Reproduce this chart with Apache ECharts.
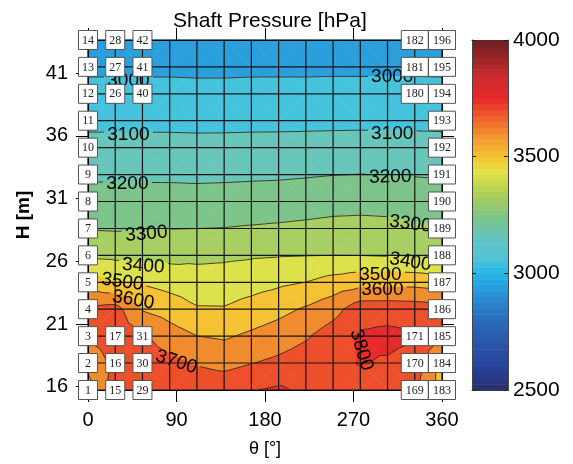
<!DOCTYPE html>
<html><head><meta charset="utf-8">
<script src="https://cdn.jsdelivr.net/npm/echarts@6/dist/echarts.min.js"></script>
<style>html,body{margin:0;padding:0;background:#fff}#c{width:573px;height:464px}</style>
</head><body><div id="c"></div><script>
// ---------- data ----------
const thetaNodes = [0, 27.69, 55.38, 83.08, 110.77, 138.46, 166.15, 193.85, 221.54, 249.23, 276.92, 304.62, 332.31, 360];
const heightNodes = [15.74, 17.89, 20.03, 22.18, 24.32, 26.47, 28.61, 30.76, 32.91, 35.05, 37.20, 39.34, 41.49, 43.63];
// pressure[row of height][column of theta]  (hPa)
const pressure = [
  [3560, 3745, 3760, 3770, 3775, 3770, 3795, 3815, 3780, 3775, 3770, 3760, 3720, 3555],
  [3625, 3730, 3755, 3730, 3690, 3668, 3697, 3722, 3750, 3770, 3805, 3790, 3760, 3560],
  [3712, 3745, 3715, 3646, 3601, 3588, 3618, 3649, 3689, 3750, 3812, 3825, 3810, 3705],
  [3720, 3740, 3593, 3557, 3508, 3507, 3537, 3571, 3612, 3663, 3760, 3760, 3755, 3740],
  [3543, 3505, 3491, 3463, 3444, 3446, 3462, 3482, 3501, 3538, 3564, 3569, 3566, 3548],
  [3384, 3377, 3372, 3371, 3378, 3383, 3390, 3395, 3398, 3400, 3399, 3394, 3384, 3373],
  [3295, 3291, 3295, 3298, 3300, 3302, 3308, 3314, 3321, 3330, 3333, 3328, 3316, 3306],
  [3240, 3238, 3239, 3240, 3240, 3242, 3245, 3248, 3255, 3263, 3266, 3264, 3255, 3248],
  [3185, 3185, 3184, 3183, 3180, 3182, 3185, 3187, 3192, 3198, 3201, 3200, 3195, 3191],
  [3130, 3130, 3130, 3129, 3127, 3128, 3130, 3131, 3134, 3136, 3137, 3137, 3135, 3132],
  [3078, 3078, 3078, 3078, 3077, 3077, 3078, 3078, 3078, 3079, 3080, 3080, 3079, 3078],
  [3030, 3030, 3030, 3030, 3028, 3028, 3030, 3030, 3030, 3031, 3031, 3031, 3030, 3030],
  [2982, 2982, 2982, 2982, 2980, 2980, 2982, 2982, 2982, 2983, 2983, 2983, 2983, 2982],
  [2935, 2935, 2935, 2935, 2935, 2935, 2935, 2935, 2935, 2935, 2935, 2935, 2935, 2935]
];
const contourLevels = [3000, 3100, 3200, 3300, 3400, 3500, 3600, 3700, 3800];
const thetaTicks = [0, 90, 180, 270, 360];
const heightTicks = [16, 21, 26, 31, 36, 41];
const colorbarTicks = [2500, 3000, 3500, 4000];
// node columns that carry numbered boxes, and the rows boxed in each
const boxedColumns = [0, 1, 2, 12, 13];
const boxedRows = {
  0: [0,1,2,3,4,5,6,7,8,9,10,11,12,13],
  1: [0,1,2,11,12,13],
  2: [0,1,2,11,12,13],
  12: [0,1,2,11,12,13],
  13: [0,1,2,3,4,5,6,7,8,9,10,11,12,13]
};
// contour label annotations: text, theta, height, rotation (deg)
const contourLabelText = ['3000','3000','3100','3100','3200','3200','3300','3300','3400','3400','3500','3500','3600','3600','3700','3800'];
const contourLabelTheta = [41.1, 309.4, 41.1, 309.4, 40.0, 307.4, 59.4, 327.9, 56.2, 327.9, 34.9, 297.3, 46.1, 299.3, 89.8, 278.0];
const contourLabelH = [40.37, 40.68, 36.06, 36.14, 32.15, 32.71, 28.17, 28.97, 25.62, 25.94, 24.35, 24.90, 22.91, 23.71, 17.97, 18.93];
const contourLabelRot = [0, 0, 0, 0, 0, 1, 5, -7, -4, -9, -8, 0, -10, 0, -18, -73];

// ---------- styles ----------
const FF = 'Liberation Sans, Arial, sans-serif';
const bandColors = ['#2a9fdb','#46c3dc','#67c6b9','#7dc48b','#a7cf61','#dde24b','#f4c233','#f08b2e','#ee4f2b','#e8282a'];
const cmapStops = [
  [2500,'#2b2d6b'],[2600,'#26439a'],[2700,'#2a55a8'],[2800,'#2a6bb8'],[2900,'#2b8ed3'],[2980,'#22aee6'],
  [3010,'#2bb8e6'],[3060,'#50c3da'],[3150,'#62c5c0'],[3230,'#78c48f'],[3320,'#a2cc5e'],[3440,'#e3e244'],
  [3500,'#f5c431'],[3580,'#f39a2e'],[3660,'#f0652c'],[3750,'#e8292a'],[3850,'#c92a2d'],[3930,'#952428'],[4000,'#6c1f23']
];
function hexToRgb(h){return [parseInt(h.slice(1,3),16),parseInt(h.slice(3,5),16),parseInt(h.slice(5,7),16)];}
function cmap(v){
  for(let k=0;k<cmapStops.length-1;k++){
    const a=cmapStops[k],b=cmapStops[k+1];
    if(v>=a[0]&&v<=b[0]){
      const t=(v-a[0])/(b[0]-a[0]);const ca=hexToRgb(a[1]),cb=hexToRgb(b[1]);
      return 'rgb('+ca.map((c,i)=>Math.round(c+t*(cb[i]-c))).join(',')+')';
    }
  }
  return v<cmapStops[0][0]?cmapStops[0][1]:cmapStops[cmapStops.length-1][1];
}

// ---------- geometry helpers ----------
function cellTriangles(api,i,j){
  const cs=[[i,j],[i+1,j],[i+1,j+1],[i,j+1]].map(([a,b])=>{
    const p=api.coord([thetaNodes[a],heightNodes[b]]);
    return [p[0],p[1],pressure[b][a]];
  });
  const c=[0,1,2].map(k=>(cs[0][k]+cs[1][k]+cs[2][k]+cs[3][k])/4);
  return [[cs[0],cs[1],c],[cs[1],cs[2],c],[cs[2],cs[3],c],[cs[3],cs[0],c]];
}
function clipPoly(poly,lev,above){
  const out=[];
  for(let k=0;k<poly.length;k++){
    const a=poly[k],b=poly[(k+1)%poly.length];
    const ain=above?a[2]>=lev:a[2]<=lev;
    const bin=above?b[2]>=lev:b[2]<=lev;
    if(ain)out.push(a);
    if(ain!==bin){
      const t=(lev-a[2])/(b[2]-a[2]);
      out.push([a[0]+t*(b[0]-a[0]),a[1]+t*(b[1]-a[1]),lev]);
    }
  }
  return out;
}
function labelRects(api){
  return contourLabelText.map((txt,k)=>{
    const p=api.coord([contourLabelTheta[k],contourLabelH[k]]);
    const r=contourLabelRot[k]*Math.PI/180;
    return {level:+txt,c:p,u:[Math.cos(r),-Math.sin(r)],n:[Math.sin(r),Math.cos(r)],hw:txt.length*5.6+2,hh:8};
  });
}
function subtractRect(seg,R){
  const P=seg[0],Q=seg[1];
  const d=[Q[0]-P[0],Q[1]-P[1]];
  const rel=[P[0]-R.c[0],P[1]-R.c[1]];
  const pa=rel[0]*R.u[0]+rel[1]*R.u[1], pb=rel[0]*R.n[0]+rel[1]*R.n[1];
  const da=d[0]*R.u[0]+d[1]*R.u[1], db=d[0]*R.n[0]+d[1]*R.n[1];
  let t0=0,t1=1;
  const tests=[[-da,pa+R.hw],[da,R.hw-pa],[-db,pb+R.hh],[db,R.hh-pb]];
  for(const [p,q] of tests){
    if(p===0){ if(q<0) return [seg]; }
    else{
      const r=q/p;
      if(p<0){ if(r>t1) return [seg]; if(r>t0) t0=r; }
      else { if(r<t0) return [seg]; if(r<t1) t1=r; }
    }
  }
  if(t0>t1) return [seg];
  const out=[];
  if(t0>0.001) out.push([P,[P[0]+t0*d[0],P[1]+t0*d[1]]]);
  if(t1<0.999) out.push([[P[0]+t1*d[0],P[1]+t1*d[1]],Q]);
  return out;
}

// ---------- series data ----------
const cells=[];
for(let j=0;j<heightNodes.length-1;j++)for(let i=0;i<thetaNodes.length-1;i++)cells.push([thetaNodes[i],heightNodes[j],i,j]);
const boxes=[];
boxedColumns.forEach(ci=>boxedRows[ci].forEach(rj=>boxes.push([thetaNodes[ci],heightNodes[rj],ci*heightNodes.length+rj+1])));
const labelsData=contourLabelText.map((t,k)=>[contourLabelTheta[k],contourLabelH[k],k]);
const colorbarSteps=[];
for(let v=colorbarTicks[0];v<colorbarTicks[colorbarTicks.length-1];v+=25)colorbarSteps.push([0.5,v]);

const chart=echarts.init(document.getElementById('c'),null,{renderer:'canvas'});
const axisLineStyle={color:'#000',width:1};
const option={
  animation:false,
  backgroundColor:'#fff',
  title:{text:'Shaft Pressure [hPa]',left:265,top:6,textAlign:'center',
    textStyle:{fontSize:21,fontWeight:'normal',color:'#000',fontFamily:FF}},
  grid:[{left:88,top:40,width:354,height:350},{left:472,top:40,width:36,height:350}],
  xAxis:[
    {gridIndex:0,type:'value',min:0,max:360,interval:90,position:'bottom',z:6,
      axisLine:{onZero:false,lineStyle:axisLineStyle},axisTick:{length:12,lineStyle:{color:'#000'}},
      axisLabel:{fontSize:20,color:'#000',margin:20,fontFamily:FF},splitLine:{show:false},
      name:'θ [°]',nameLocation:'middle',nameGap:50,nameTextStyle:{fontSize:18,color:'#000',fontFamily:FF}},
    {gridIndex:0,type:'value',min:0,max:360,interval:90,position:'top',z:6,
      axisLine:{onZero:false,lineStyle:axisLineStyle},axisTick:{length:12,lineStyle:{color:'#000'}},
      axisLabel:{show:false},splitLine:{show:false}},
    {gridIndex:1,type:'value',min:0,max:1,position:'bottom',axisLine:{onZero:false,lineStyle:{color:'#444',width:1}},
      axisTick:{show:false},axisLabel:{show:false},splitLine:{show:false}},
    {gridIndex:1,type:'value',min:0,max:1,position:'top',axisLine:{onZero:false,lineStyle:{color:'#444',width:1}},
      axisTick:{show:false},axisLabel:{show:false},splitLine:{show:false}}
  ],
  yAxis:[
    {gridIndex:0,type:'value',min:heightNodes[0],max:heightNodes[heightNodes.length-1],position:'left',z:6,
      axisLine:{onZero:false,lineStyle:axisLineStyle},
      axisTick:{length:12,customValues:heightTicks,lineStyle:{color:'#000'}},
      axisLabel:{customValues:heightTicks,fontSize:20,color:'#000',margin:20,fontFamily:FF},splitLine:{show:false},
      name:'H [m]',nameLocation:'middle',nameGap:55,nameTextStyle:{fontSize:19,fontWeight:'bold',color:'#000',fontFamily:FF}},
    {gridIndex:0,type:'value',min:heightNodes[0],max:heightNodes[heightNodes.length-1],position:'right',z:6,
      axisLine:{onZero:false,lineStyle:axisLineStyle},
      axisTick:{length:12,customValues:heightTicks,lineStyle:{color:'#000'}},
      axisLabel:{show:false},splitLine:{show:false}},
    {gridIndex:1,type:'value',min:2500,max:4000,interval:500,position:'right',z:6,
      axisLine:{onZero:false,lineStyle:{color:'#444',width:1}},
      axisTick:{inside:true,length:4,lineStyle:{color:'#222'}},
      axisLabel:{fontSize:21,color:'#000',margin:5,fontFamily:FF,formatter:v=>String(v)},splitLine:{show:false}},
    {gridIndex:1,type:'value',min:2500,max:4000,interval:500,position:'left',z:6,
      axisLine:{onZero:false,lineStyle:{color:'#444',width:1}},
      axisTick:{inside:true,length:4,lineStyle:{color:'#222'}},
      axisLabel:{show:false},splitLine:{show:false}}
  ],
  series:[
    { // filled contour bands
      type:'custom',xAxisIndex:0,yAxisIndex:0,z:1,silent:true,data:cells,encode:{x:0,y:1},
      renderItem(params,api){
        const i=api.value(2),j=api.value(3);
        const edges=[-Infinity,...contourLevels,Infinity];
        const children=[];
        for(const t of cellTriangles(api,i,j)){
          for(let k=0;k<bandColors.length;k++){
            let poly=t;
            if(isFinite(edges[k]))poly=clipPoly(poly,edges[k],true);
            if(poly.length>=3&&isFinite(edges[k+1]))poly=clipPoly(poly,edges[k+1],false);
            if(poly.length>=3)children.push({type:'polygon',shape:{points:poly.map(p=>[p[0],p[1]])},
              style:{fill:bandColors[k],stroke:bandColors[k],lineWidth:0.7}});
          }
        }
        return {type:'group',children};
      }
    },
    { // contour lines
      type:'custom',xAxisIndex:0,yAxisIndex:0,z:2,silent:true,data:cells,encode:{x:0,y:1},
      renderItem(params,api){
        const i=api.value(2),j=api.value(3);
        const rects=labelRects(api);
        const children=[];
        for(const t of cellTriangles(api,i,j)){
          for(const L of contourLevels){
            const pts=[];
            for(let e=0;e<3;e++){
              const a=t[e],b=t[(e+1)%3];
              if((a[2]>=L)!==(b[2]>=L)){
                const s=(L-a[2])/(b[2]-a[2]);
                pts.push([a[0]+s*(b[0]-a[0]),a[1]+s*(b[1]-a[1])]);
              }
            }
            if(pts.length!==2)continue;
            let segs=[[pts[0],pts[1]]];
            rects.filter(r=>r.level===L).forEach(R=>{segs=segs.flatMap(sg=>subtractRect(sg,R));});
            segs.forEach(sg=>children.push({type:'line',shape:{x1:sg[0][0],y1:sg[0][1],x2:sg[1][0],y2:sg[1][1]},
              style:{stroke:'#3a2c22',lineWidth:0.9}}));
          }
        }
        return {type:'group',children};
      }
    },
    { // mesh lines at the nodes
      type:'custom',xAxisIndex:0,yAxisIndex:0,z:3,silent:true,data:[[thetaNodes[0],heightNodes[0]]],encode:{x:0,y:1},
      renderItem(params,api){
        const children=[];
        const h0=heightNodes[0],h1=heightNodes[heightNodes.length-1],t0=thetaNodes[0],t1=thetaNodes[thetaNodes.length-1];
        thetaNodes.forEach(th=>{const a=api.coord([th,h0]),b=api.coord([th,h1]);
          children.push({type:'line',shape:{x1:a[0],y1:a[1],x2:b[0],y2:b[1]},style:{stroke:'#151515',lineWidth:1.2}});});
        heightNodes.forEach(h=>{const a=api.coord([t0,h]),b=api.coord([t1,h]);
          children.push({type:'line',shape:{x1:a[0],y1:a[1],x2:b[0],y2:b[1]},style:{stroke:'#151515',lineWidth:1.2}});});
        return {type:'group',children};
      }
    },
    { // contour labels
      type:'custom',xAxisIndex:0,yAxisIndex:0,z:4,silent:true,data:labelsData,encode:{x:0,y:1},
      renderItem(params,api){
        const k=api.value(2);
        const p=api.coord([api.value(0),api.value(1)]);
        return {type:'text',x:p[0],y:p[1],rotation:contourLabelRot[k]*Math.PI/180,
          style:{text:contourLabelText[k],fill:'#000',fontSize:19,fontFamily:FF,align:'center',verticalAlign:'middle'}};
      }
    },
    { // numbered node boxes
      type:'custom',xAxisIndex:0,yAxisIndex:0,z:20,silent:true,clip:false,data:boxes,encode:{x:0,y:1},
      renderItem(params,api){
        const p=api.coord([api.value(0),api.value(1)]);
        const txt=String(api.value(2));
        const w=txt.length>2?27:19,h=19;
        return {type:'group',x:p[0],y:p[1],children:[
          {type:'rect',shape:{x:-w/2,y:-h/2,width:w,height:h},style:{fill:'#fff',stroke:'#555',lineWidth:1}},
          {type:'text',style:{text:txt,x:0,y:0.5,fill:'#222',fontSize:12,fontFamily:'Liberation Serif, DejaVu Serif, serif',align:'center',verticalAlign:'middle'}}
        ]};
      }
    },
    { // colour bar
      type:'custom',xAxisIndex:2,yAxisIndex:2,z:1,silent:true,data:colorbarSteps,encode:{x:0,y:1},
      renderItem(params,api){
        const v=api.value(1);
        const a=api.coord([0,v]),b=api.coord([1,v+25]);
        return {type:'rect',shape:{x:a[0],y:b[1],width:b[0]-a[0],height:a[1]-b[1]+0.6},
          style:{fill:cmap(v+12.5)}};
      }
    }
  ]
};
chart.setOption(option);
</script></body></html>
